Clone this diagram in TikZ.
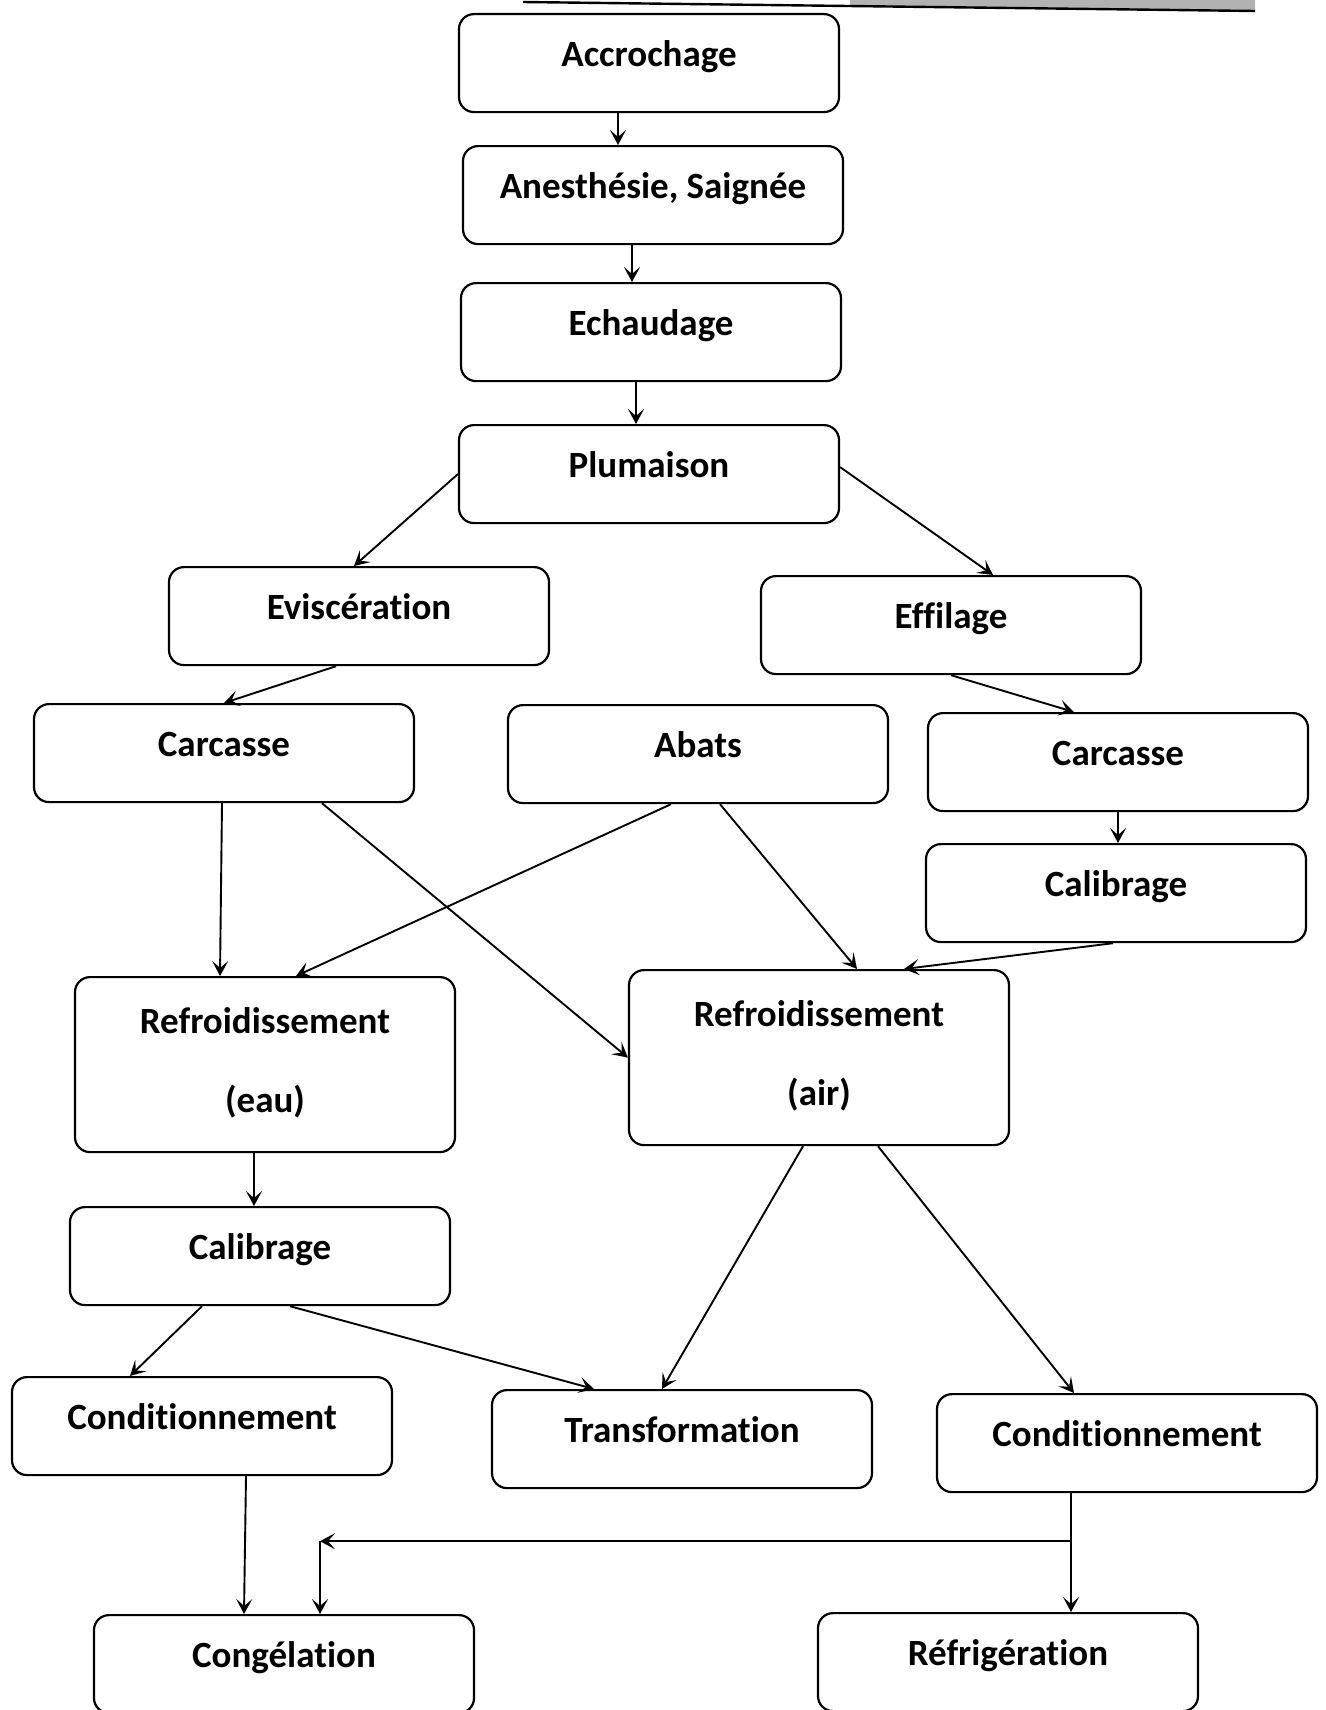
\documentclass[tikz,border=0pt]{standalone}
\usepackage{fontspec}
\setmainfont{Carlito}[Ligatures=NoCommon]
\usetikzlibrary{arrows.meta,calc}

\tikzset{
  stepbox/.style={draw, line width=2.2pt, rounded corners=15pt, anchor=north,
    minimum width=380pt, inner xsep=0pt, inner ysep=0pt,
    text height=52pt, text depth=46pt, font=\bfseries\fontsize{37}{44}\selectfont},
  coolbox/.style={stepbox, text height=56pt, text depth=119pt},
  arr/.style={line width=1.9pt, -{Stealth[length=15pt,width=16pt,inset=7pt]}}
}

\begin{document}
\begin{tikzpicture}[x=1pt,y=1pt,yscale=-1,xscale=1]
    \useasboundingbox (0,0) rectangle (1325,1710);
    \fill[white] (0,0) rectangle (1325,1710);

    %scan edge at the top
    \fill[black!30] (850,0) -- (1255,0) -- (1255,11) -- (850,6) -- cycle;
    \draw[line width=2.4pt] (523,2) -- (1255,11);

    % Steps
    \node[stepbox] (acc) at (649,13) {Accrochage};
    \node[stepbox] (anes) at (653,145) {Anesthésie, Saignée};
    \node[stepbox] (echau) at (651,282) {Echaudage};
    \node[stepbox] (plum) at (649,424) {Plumaison};
    \node[stepbox] (evis) at (359,566) {Eviscération};
    \node[stepbox] (effil) at (951,575) {Effilage};
    \node[stepbox] (carcL) at (224,703) {Carcasse};
    \node[stepbox] (abats) at (698,704) {Abats};
    \node[stepbox] (carcR) at (1118,712) {Carcasse};
    \node[stepbox] (calR) at (1116,843) {Calibrage};
    \node[coolbox] (reau) at (265,976) {\begin{tabular}[t]{@{}c@{}}Refroidissement\\[35pt](eau)\end{tabular}};
    \node[coolbox] (rair) at (819,969) {\begin{tabular}[t]{@{}c@{}}Refroidissement\\[35pt](air)\end{tabular}};
    \node[stepbox] (calL) at (260,1206) {Calibrage};
    \node[stepbox] (condL) at (202,1376) {Conditionnement};
    \node[stepbox] (transf) at (682,1389) {Transformation};
    \node[stepbox] (condR) at (1127,1393) {Conditionnement};
    \node[stepbox] (cong) at (284,1614) {Congélation};
    \node[stepbox] (refrig) at (1008,1612) {Réfrigération};

    % Arrows
    \draw[arr] ([xshift=-31pt]acc.south) -- ([xshift=-31pt]acc.south |- anes.north);
    \draw[arr] ([xshift=-21pt]anes.south) -- ([xshift=-21pt]anes.south |- echau.north);
    \draw[arr] ([xshift=-15pt]echau.south) -- ([xshift=-15pt]echau.south |- plum.north);
    \draw[arr] (plum.west) -- ([xshift=-5pt]evis.north);
    \draw[arr] ([yshift=-7pt]plum.east) -- ([xshift=42pt]effil.north);
    \draw[arr] ([xshift=-23pt]evis.south) -- (carcL.north);
    \draw[arr] (effil.south) -- ([xshift=-44pt]carcR.north);
    \draw[arr] (carcR.south) -- (carcR.south |- calR.north);
    \draw[arr] ([xshift=-3pt]calR.south) -- ([xshift=85pt]rair.north);
    \draw[arr] ([xshift=-2pt]carcL.south) -- ([xshift=-45pt]reau.north);
    \draw[arr] ([xshift=98pt]carcL.south) -- (rair.west);
    \draw[arr] ([xshift=-27pt]abats.south) -- ([xshift=31pt]reau.north);
    \draw[arr] ([xshift=22pt]abats.south) -- ([xshift=38pt]rair.north);
    \draw[arr] ([xshift=-11pt]reau.south) -- ([xshift=-11pt]reau.south |- calL.north);
    \draw[arr] ([xshift=-58pt]calL.south) -- ([xshift=-72pt]condL.north);
    \draw[arr] ([xshift=30pt]calL.south) -- ([xshift=-88pt]transf.north);
    \draw[arr] ([xshift=-16pt]rair.south) -- ([xshift=-20pt]transf.north);
    \draw[arr] ([xshift=59pt]rair.south) -- ([xshift=-53pt]condR.north);
    \draw[arr] ([xshift=44pt]condL.south) -- ([xshift=-40pt]cong.north);
    \draw[arr] ([xshift=-56pt]condR.south) -- ([xshift=-56pt]condR.south |- refrig.north);

    % branch towards Congelation
    \coordinate (junc) at ($(condR.south)+(-56,48)$);
    \coordinate (corner) at ([xshift=36pt]cong.north |- junc);
    \draw[arr] (junc) -- (corner);
    \draw[arr] (corner) -- ([xshift=36pt]cong.north);

\end{tikzpicture}
\end{document}
